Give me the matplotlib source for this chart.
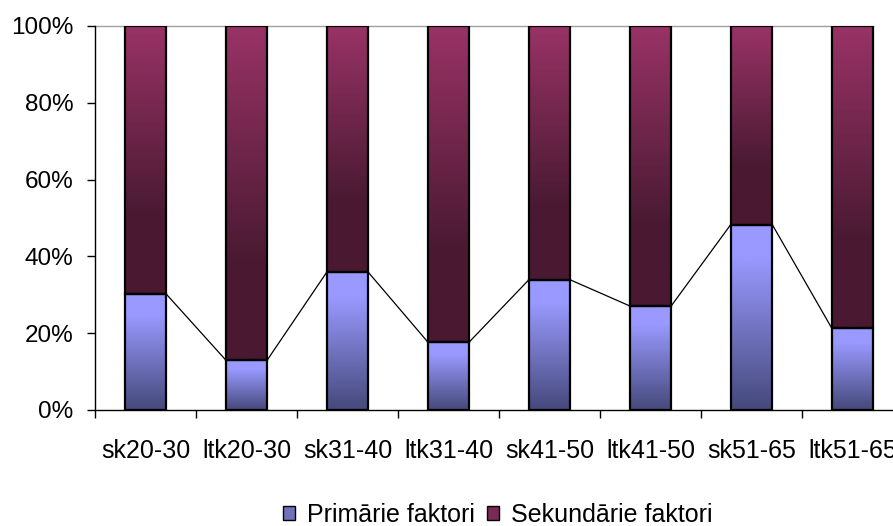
"""100% stacked bars of primary vs secondary factors per group."""

import numpy as np
import matplotlib
matplotlib.use("Agg")
import matplotlib.pyplot as plt
from matplotlib.colors import LinearSegmentedColormap
from matplotlib.patches import Rectangle, Patch
from matplotlib.ticker import FixedLocator, PercentFormatter

plt.rcParams["font.family"] = ["Liberation Sans", "DejaVu Sans"]

categories = ["sk20-30", "ltk20-30", "sk31-40", "ltk31-40",
              "sk41-50", "ltk41-50", "sk51-65", "ltk51-65"]
primary = [30.2, 13.0, 35.9, 17.7, 33.9, 27.1, 48.3, 21.3]
secondary = [69.8, 87.0, 64.1, 82.3, 66.1, 72.9, 51.7, 78.7]
series_names = ["Primārie faktori", "Sekundārie faktori"]

blue_cmap = LinearSegmentedColormap.from_list(
    "blue_grad", [(0.0, "#45497a"), (0.82, "#9999ff"), (1.0, "#9999ff")])
maroon_cmap = LinearSegmentedColormap.from_list(
    "maroon_grad", [(0.0, "#4a1830"), (0.3, "#4a1a32"), (1.0, "#993366")])


def gradient_bar(ax, x, bottom, height, width, cmap):
    grad = np.linspace(0, 1, 256).reshape(-1, 1)
    ax.imshow(grad, extent=(x - width / 2, x + width / 2, bottom, bottom + height),
              origin="lower", cmap=cmap, aspect="auto", zorder=2, interpolation="bilinear")
    ax.add_patch(Rectangle((x - width / 2, bottom), width, height, fill=False,
                           edgecolor="black", lw=1.6, zorder=3))


fig = plt.figure(figsize=(8.93, 5.26), dpi=100)
ax = fig.add_axes([95 / 893, 116 / 526, 808 / 893, 384 / 526])

x = np.arange(len(categories))
width = 0.41
for xi, p, s in zip(x, primary, secondary):
    gradient_bar(ax, xi, 0, p, width, blue_cmap)
    gradient_bar(ax, xi, p, s, width, maroon_cmap)

# series lines between the tops of the primary segments
for i in range(len(x) - 1):
    ax.plot([x[i] + width / 2, x[i + 1] - width / 2], [primary[i], primary[i + 1]],
            color="black", lw=0.9, zorder=1)

ax.plot([-0.5, x[-1] + width / 2], [100, 100], color="#a0a0a0", lw=1.0, zorder=1, clip_on=False)

ax.set_xlim(-0.5, len(categories) - 0.5)
ax.set_ylim(0, 100)

for side in ["top", "right"]:
    ax.spines[side].set_visible(False)
ax.spines["left"].set_linewidth(1.0)
ax.spines["bottom"].set_linewidth(1.0)

ax.yaxis.set_major_locator(FixedLocator([0, 20, 40, 60, 80, 100]))
ax.yaxis.set_major_formatter(PercentFormatter(decimals=0))
ax.tick_params(axis="y", length=5.5, width=1.0, pad=10, labelsize=17.5)

ax.set_xticks(x)
ax.set_xticklabels(categories)
ax.xaxis.set_minor_locator(FixedLocator(np.arange(-0.5, len(categories), 1.0)))
ax.tick_params(axis="x", which="major", length=0, pad=21, labelsize=18)
ax.tick_params(axis="x", which="minor", length=5.5, width=1.0)

handles = [Patch(facecolor="#6f72bb", edgecolor="black", lw=1.0),
           Patch(facecolor="#7a2a55", edgecolor="black", lw=1.0)]
fig.legend(handles, series_names, loc="center", bbox_to_anchor=(498 / 893, 1 - 515 / 526),
           ncol=2, frameon=False, fontsize=18, handlelength=0.45, handleheight=0.45,
           handletextpad=0.5, columnspacing=0.5, borderpad=0.1)

fig.savefig("out.png", dpi=100)
